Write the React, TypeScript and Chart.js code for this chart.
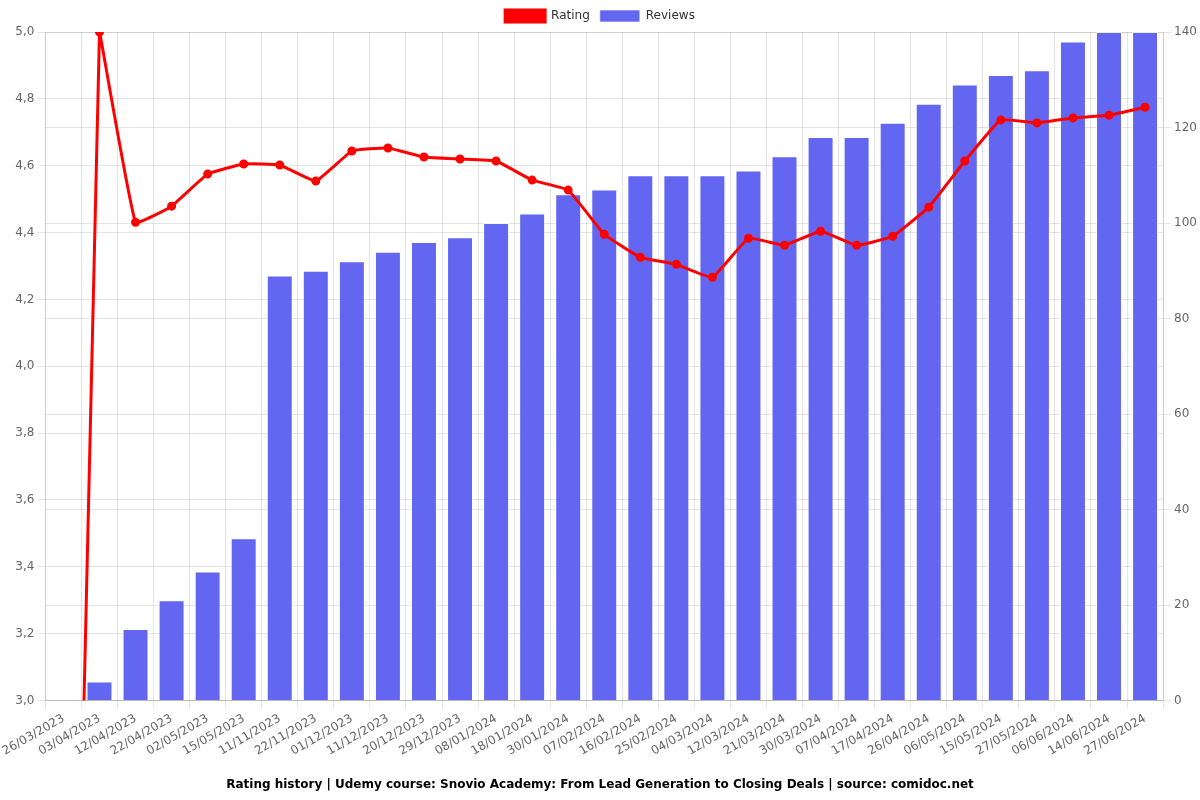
import React, { useEffect, useRef } from "react";
import { Chart, registerables } from "chart.js";

Chart.register(...registerables);

const labels = [
  "26/03/2023", "03/04/2023", "12/04/2023", "22/04/2023", "02/05/2023", "15/05/2023",
  "11/11/2023", "22/11/2023", "01/12/2023", "11/12/2023", "20/12/2023", "29/12/2023",
  "08/01/2024", "18/01/2024", "30/01/2024", "07/02/2024", "16/02/2024", "25/02/2024",
  "04/03/2024", "12/03/2024", "21/03/2024", "30/03/2024", "07/04/2024", "17/04/2024",
  "26/04/2024", "06/05/2024", "15/05/2024", "27/05/2024", "06/06/2024", "14/06/2024",
  "27/06/2024",
];

const ratings = [
  0, 5.0, 4.431, 4.479, 4.575, 4.605, 4.602, 4.554, 4.644, 4.653, 4.626, 4.62,
  4.614, 4.557, 4.527, 4.395, 4.326, 4.305, 4.266, 4.383, 4.362, 4.404, 4.362,
  4.389, 4.476, 4.614, 4.737, 4.728, 4.743, 4.751, 4.775,
];

const reviews = [
  0, 4, 15, 21, 27, 34, 89, 90, 92, 94, 96, 97, 100, 102, 106, 107, 110, 110, 110,
  111, 114, 118, 118, 121, 125, 129, 131, 132, 138, 140, 140,
];

const titleText =
  "Rating history | Udemy course: Snovio Academy: From Lead Generation to Closing Deals | source: comidoc.net";

export default function App() {
  const ref = useRef<HTMLCanvasElement | null>(null);
  useEffect(() => {
    if (!ref.current) return;
    Chart.defaults.font.family = "'DejaVu Sans', sans-serif";
    Chart.defaults.color = "#666";
    const chart = new Chart(ref.current, {
      type: "bar",
      data: {
        labels,
        datasets: [
          {
            type: "line",
            label: "Rating",
            data: ratings,
            borderColor: "#ff0000",
            backgroundColor: "#ff0000",
            borderWidth: 3,
            pointRadius: 3,
            pointBackgroundColor: "#ff0000",
            tension: 0.1,
            yAxisID: "y",
            order: 0,
          },
          {
            type: "bar",
            label: "Reviews",
            data: reviews,
            backgroundColor: "#6366f1",
            borderColor: "rgba(255,255,255,0.6)",
            borderWidth: 1,
            yAxisID: "y1",
            order: 1,
          },
        ],
      },
      options: {
        responsive: false,
        animation: false,
        maintainAspectRatio: false,
        plugins: {
          legend: {
            position: "top",
            labels: { boxWidth: 40, color: "#333", font: { size: 12 } },
          },
          title: {
            display: true,
            position: "bottom",
            text: titleText,
            color: "#000",
            font: { size: 12, weight: "bold" },
            padding: { top: 16, bottom: 8 },
          },
        },
        scales: {
          x: {
            grid: { color: "rgba(0,0,0,0.1)" },
            ticks: { maxRotation: 30, minRotation: 30, font: { size: 12 } },
          },
          y: {
            position: "left",
            min: 3,
            max: 5,
            ticks: {
              stepSize: 0.2,
              callback: (v: any) => Number(v).toFixed(1).replace(".", ","),
            },
            grid: { color: "rgba(0,0,0,0.1)" },
          },
          y1: {
            position: "right",
            min: 0,
            max: 140,
            ticks: { stepSize: 20 },
            grid: { color: "rgba(0,0,0,0.1)" },
          },
        },
      },
    });
    return () => chart.destroy();
  }, []);
  return (
    <div style={{ position: "fixed", left: 0, top: 0, width: 1200, height: 800, background: "#fff" }}>
      <canvas ref={ref} width={1200} height={800} style={{ width: 1200, height: 800 }} />
    </div>
  );
}
